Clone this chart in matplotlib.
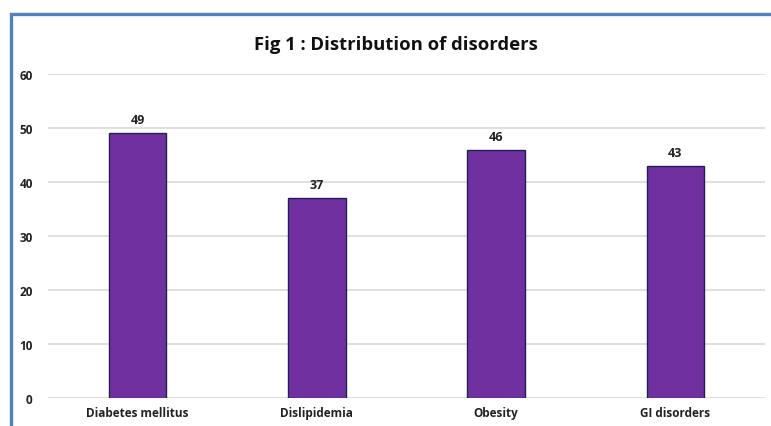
import matplotlib
matplotlib.use("Agg")
import matplotlib.pyplot as plt
from matplotlib.patches import Rectangle

categories = ["Diabetes mellitus", "Dislipidemia", "Obesity", "GI disorders"]
counts = [49, 37, 46, 43]
yticks = [0, 10, 20, 30, 40, 50, 60]

plt.rcParams["font.family"] = ["Open Sans", "DejaVu Sans"]

W, H = 771, 427
fig = plt.figure(figsize=(W / 100, H / 100), dpi=100)
fig.patch.set_facecolor("white")

# chart frame (left and top edges visible)
frame = Rectangle((10.5 / W, -0.1), 1.2, (H - 14.5) / H + 0.1,
                  transform=fig.transFigure, fill=False,
                  edgecolor="#5182c0", linewidth=2.4, zorder=0)
fig.patches.append(frame)

ax = fig.add_axes([48 / W, 1 - 399 / H, (765 - 48) / W, (399 - 75) / H])
x = range(len(categories))
bars = ax.bar(x, counts, width=0.32, color="#7030a0",
              edgecolor="#1f1f5a", linewidth=1.0, zorder=3)
for xi, v in zip(x, counts):
    ax.text(xi, v + 1.3, str(v), ha="center", va="bottom",
            fontsize=9, fontweight="bold", color="#222222")

ax.set_xlim(-0.5, len(categories) - 0.5)
ax.set_ylim(0, 60)
ax.set_yticks(yticks)
ax.set_xticks(list(x))
ax.set_xticklabels(categories, fontsize=8.5, fontweight="bold", color="#222222")
for lbl in ax.get_yticklabels():
    lbl.set_fontsize(8.5)
    lbl.set_fontweight("bold")
    lbl.set_color("#222222")
ax.yaxis.grid(True, color="#d9d9d9", linewidth=1.2, zorder=0)
ax.set_axisbelow(True)
for s in ax.spines.values():
    s.set_visible(False)
ax.tick_params(length=0)
ax.tick_params(axis="y", pad=11)
ax.tick_params(axis="x", pad=6)

fig.text(396 / W, 1 - 45 / H, "Fig 1 : Distribution of disorders",
         ha="center", va="center", fontsize=13.3, fontweight="bold",
         color="#111111")

fig.savefig("out.png", dpi=100)
